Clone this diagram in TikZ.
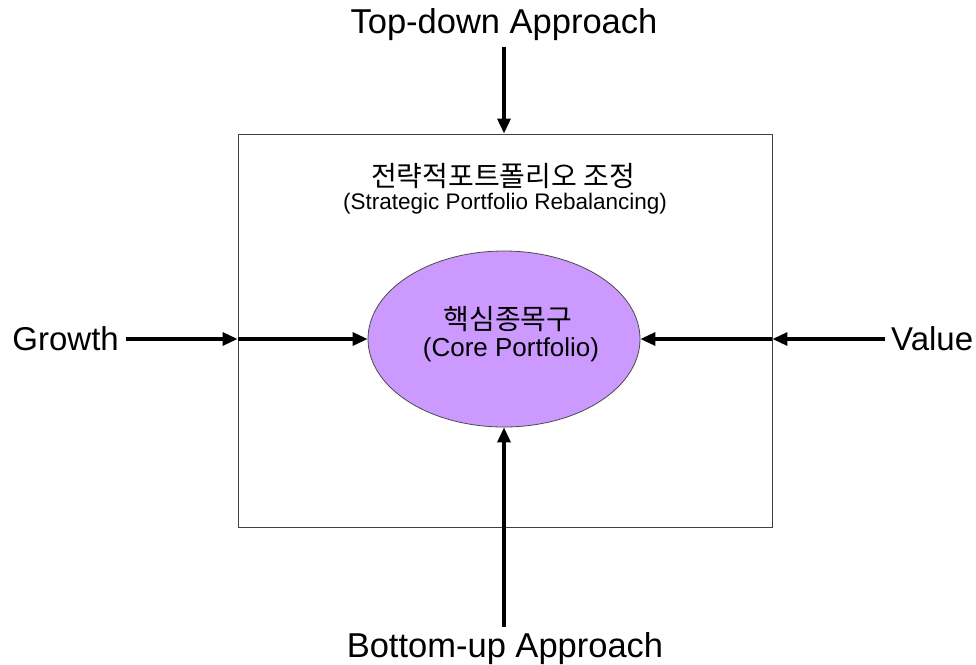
\documentclass[tikz,border=0pt]{standalone}
\usepackage{fontspec}
\setmainfont{Liberation Sans}
\newfontfamily\kofont{Noto Sans CJK KR}
\usetikzlibrary{arrows.meta,positioning,calc,shapes.geometric}
\definecolor{corefill}{RGB}{204,153,255}
\begin{document}
\begin{tikzpicture}[x=1pt,y=-1pt,
    arr/.style={line width=3.2pt,-{Triangle[length=15pt,width=13pt]}},
    bigtxt/.style={font=\fontsize{33}{36}\selectfont,inner sep=3pt}]
          \useasboundingbox (0,0) rectangle (976,664);

          % frame and core
          \node[draw=black!75,line width=0.9pt,minimum width=534,minimum height=393,inner sep=0pt] (frame) at (505,330.5) {};
          \node[ellipse,draw=black!70,line width=0.8pt,fill=corefill,minimum width=272,minimum height=176,inner sep=0pt] (core) at (504,339) {};

          \node[font=\kofont\fontsize{28}{30}\selectfont] (title) at (503,176) {전략적포트폴리오 조정};
          \node[font=\fontsize{22.5}{24}\selectfont] (subtitle) at (505,204) {(Strategic Portfolio Rebalancing)};
          \node[font=\kofont\fontsize{28}{30}\selectfont] (corekr) at (508,319) {핵심종목구};
          \node[font=\fontsize{26}{28}\selectfont] (coreen) at (511,350) {(Core Portfolio)};

          % outside labels
          \node[bigtxt,font=\fontsize{34.5}{36}\selectfont,anchor=base] (topdown) at (504,33) {Top-down Approach};
          \node[bigtxt,font=\fontsize{34.5}{36}\selectfont,anchor=base] (bottomup) at (505,657) {Bottom-up Approach};
          \node[bigtxt,anchor=east] (growth) at (122,339) {Growth};
          \node[bigtxt,anchor=west] (value) at (888,339) {Value};

          \coordinate (tin) at (frame.north -| core.north);
          \coordinate (gin) at (frame.west |- core.west);
          \coordinate (vin) at (frame.east |- core.east);

          \draw[arr,shorten <=4pt] (topdown.south -| tin) -- (tin);
          \draw[arr,shorten <=2pt] (bottomup.north -| core.south) -- (core.south);
          \draw[arr,shorten <=4pt] (growth.east) -- (gin);
          \draw[arr] (gin) -- (core.west);
          \draw[arr,shorten <=3pt] (value.west) -- (vin);
          \draw[arr] (vin) -- (core.east);
        \end{tikzpicture}
\end{document}
